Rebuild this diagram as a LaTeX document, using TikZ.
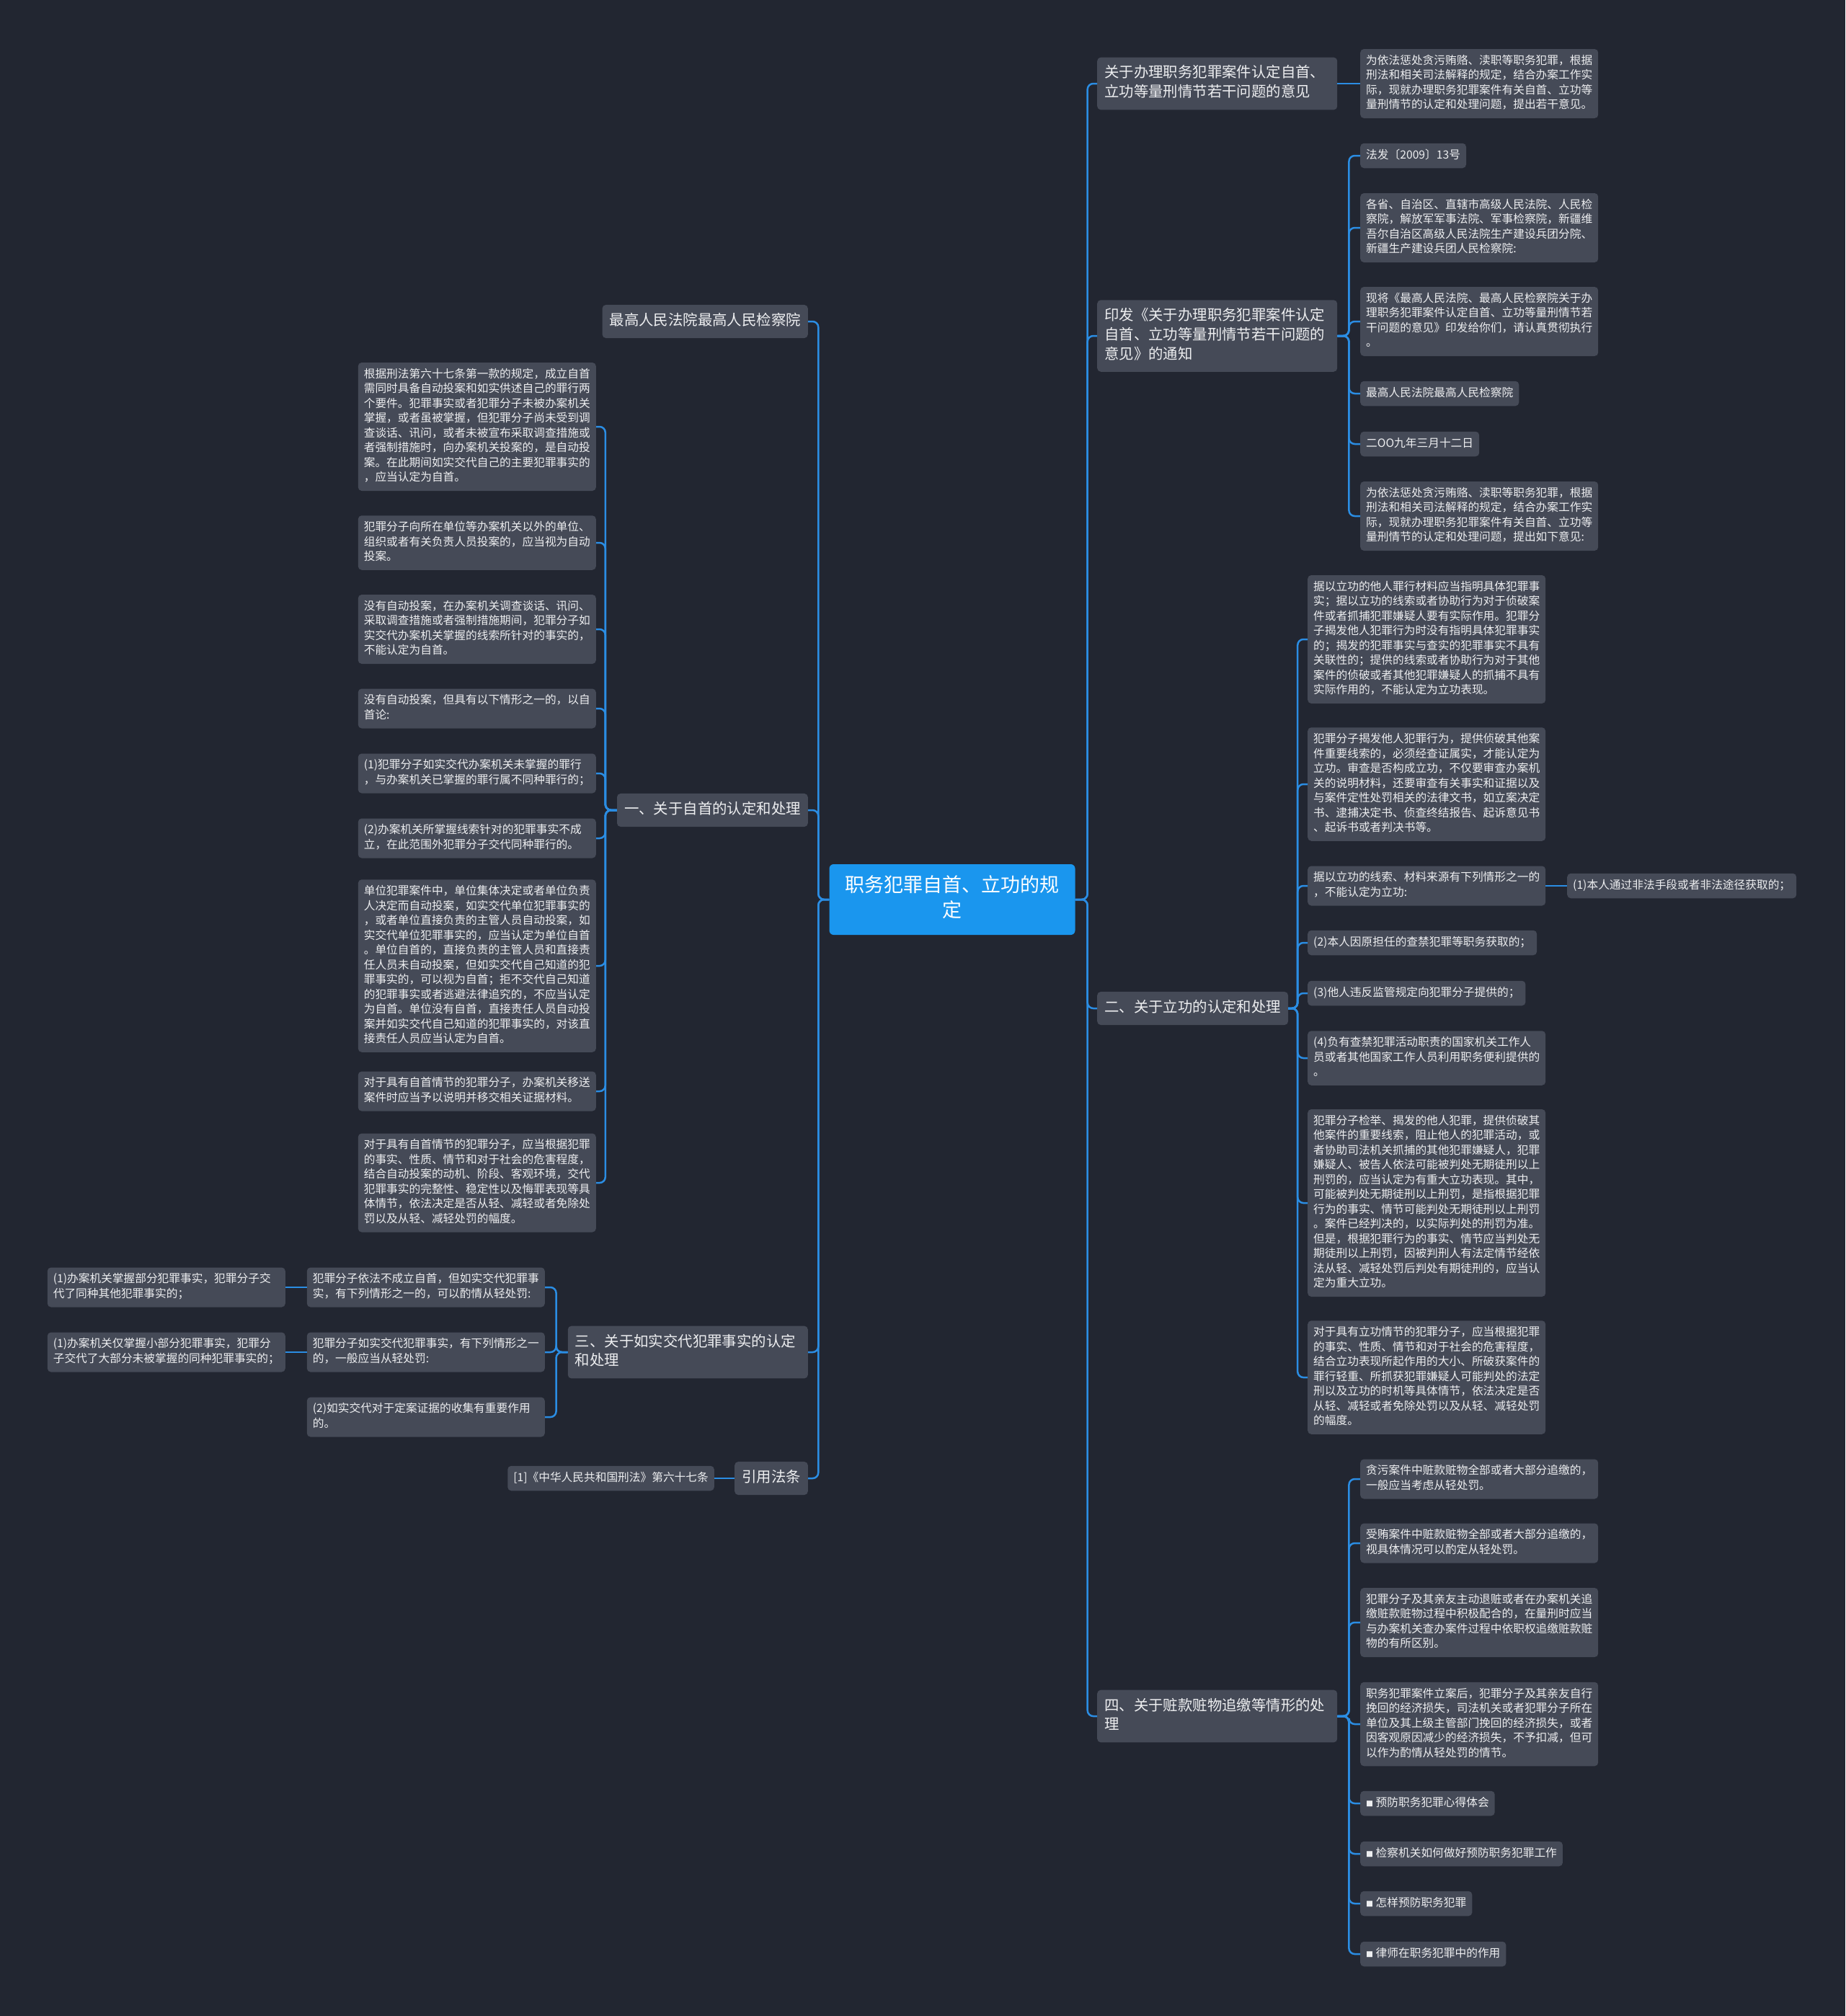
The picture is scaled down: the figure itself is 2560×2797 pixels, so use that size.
\documentclass[tikz,border=0pt]{standalone}
\usepackage{fontspec}
\setmainfont{Noto Sans CJK SC}
\definecolor{canvasbg}{HTML}{222631}
\definecolor{boxgray}{HTML}{454A57}
\definecolor{rootblue}{HTML}{1A96EE}
\definecolor{linkblue}{HTML}{2B8DE3}
\definecolor{textwhite}{HTML}{EDEEF0}
\newcommand{\leaffont}{\fontsize{15.7}{20.5}\selectfont}
\newcommand{\topicfont}{\fontsize{20.4}{26.7}\selectfont}
\newcommand{\rootfont}{\fontsize{27}{35}\selectfont}
\newcommand{\sqmark}{{\fontsize{10}{10}\selectfont ■}}

\begin{document}
\begin{tikzpicture}[x=1pt,y=-1pt,
	box/.style={fill=boxgray, text=textwhite, rounded corners=5pt, align=left,
		execute at begin node=\strut, execute at end node=\strut},
	leaf/.style={box, font=\leaffont, inner xsep=8pt, inner ysep=7pt, text width=314pt},
	tag/.style={box, font=\leaffont, inner xsep=8pt, inner ysep=7pt},
	topic/.style={box, font=\topicfont, inner xsep=10pt, inner ysep=9.7pt},
	wtopic/.style={topic, text width=313pt},
	rootnode/.style={fill=rootblue, text=white, rounded corners=6pt, align=center,
		font=\rootfont, text width=311pt, inner xsep=15pt, inner ysep=14pt,
		execute at begin node=\strut, execute at end node=\strut},
	link/.style={draw=linkblue, line width=2.5pt, rounded corners=8pt}]
	% Dark canvas, fixed to the reference size.
	\useasboundingbox (0,0) rectangle (2560,2797);
	\fill[canvasbg] (0,0) rectangle (2560,2797);

	% Central topic.
	\node[rootnode] (root) at (1321,1248) {职务犯罪自首、立功的规\\定};

	% Right-hand branches.
	\node[wtopic, anchor=west] (r1) at (1522,116) {关于办理职务犯罪案件认定自首、\\立功等量刑情节若干问题的意见};
	\node[leaf, anchor=west] (r1a) at (1887,116) {为依法惩处贪污贿赂、渎职等职务犯罪，根据\\刑法和相关司法解释的规定，结合办案工作实\\际，现就办理职务犯罪案件有关自首、立功等\\量刑情节的认定和处理问题，提出若干意见。};

	\node[wtopic, anchor=west] (r2) at (1522,466) {印发《关于办理职务犯罪案件认定\\自首、立功等量刑情节若干问题的\\意见》的通知};
	\node[tag, anchor=west] (r2a) at (1887,216) {法发〔2009〕13号};
	\node[leaf, anchor=west] (r2b) at (1887,316) {各省、自治区、直辖市高级人民法院、人民检\\察院，解放军军事法院、军事检察院，新疆维\\吾尔自治区高级人民法院生产建设兵团分院、\\新疆生产建设兵团人民检察院:};
	\node[leaf, anchor=west] (r2c) at (1887,446) {现将《最高人民法院、最高人民检察院关于办\\理职务犯罪案件认定自首、立功等量刑情节若\\干问题的意见》印发给你们，请认真贯彻执行\\。};
	\node[tag, anchor=west] (r2d) at (1887,546) {最高人民法院最高人民检察院};
	\node[tag, anchor=west] (r2e) at (1887,616) {二OO九年三月十二日};
	\node[leaf, anchor=west] (r2f) at (1887,716) {为依法惩处贪污贿赂、渎职等职务犯罪，根据\\刑法和相关司法解释的规定，结合办案工作实\\际，现就办理职务犯罪案件有关自首、立功等\\量刑情节的认定和处理问题，提出如下意见:};

	\node[topic, anchor=west] (r3) at (1522,1399) {二、关于立功的认定和处理};
	\node[leaf, anchor=west] (r3a) at (1814,887) {据以立功的他人罪行材料应当指明具体犯罪事\\实；据以立功的线索或者协助行为对于侦破案\\件或者抓捕犯罪嫌疑人要有实际作用。犯罪分\\子揭发他人犯罪行为时没有指明具体犯罪事实\\的；揭发的犯罪事实与查实的犯罪事实不具有\\关联性的；提供的线索或者协助行为对于其他\\案件的侦破或者其他犯罪嫌疑人的抓捕不具有\\实际作用的，不能认定为立功表现。};
	\node[leaf, anchor=west] (r3b) at (1814,1088) {犯罪分子揭发他人犯罪行为，提供侦破其他案\\件重要线索的，必须经查证属实，才能认定为\\立功。审查是否构成立功，不仅要审查办案机\\关的说明材料，还要审查有关事实和证据以及\\与案件定性处罚相关的法律文书，如立案决定\\书、逮捕决定书、侦查终结报告、起诉意见书\\、起诉书或者判决书等。};
	\node[leaf, anchor=west] (r3c) at (1814,1229) {据以立功的线索、材料来源有下列情形之一的\\，不能认定为立功:};
	\node[tag, anchor=west] (r3c1) at (2174,1229) {(1)本人通过非法手段或者非法途径获取的；};
	\node[tag, anchor=west] (r3d) at (1814,1308) {(2)本人因原担任的查禁犯罪等职务获取的；};
	\node[tag, anchor=west] (r3e) at (1814,1378) {(3)他人违反监管规定向犯罪分子提供的；};
	\node[leaf, anchor=west] (r3f) at (1814,1468) {(4)负有查禁犯罪活动职责的国家机关工作人\\员或者其他国家工作人员利用职务便利提供的\\。};
	\node[leaf, anchor=west] (r3g) at (1814,1669) {犯罪分子检举、揭发的他人犯罪，提供侦破其\\他案件的重要线索，阻止他人的犯罪活动，或\\者协助司法机关抓捕的其他犯罪嫌疑人，犯罪\\嫌疑人、被告人依法可能被判处无期徒刑以上\\刑罚的，应当认定为有重大立功表现。其中，\\可能被判处无期徒刑以上刑罚，是指根据犯罪\\行为的事实、情节可能判处无期徒刑以上刑罚\\。案件已经判决的，以实际判处的刑罚为准。\\但是，根据犯罪行为的事实、情节应当判处无\\期徒刑以上刑罚，因被判刑人有法定情节经依\\法从轻、减轻处罚后判处有期徒刑的，应当认\\定为重大立功。};
	\node[leaf, anchor=west] (r3h) at (1814,1911) {对于具有立功情节的犯罪分子，应当根据犯罪\\的事实、性质、情节和对于社会的危害程度，\\结合立功表现所起作用的大小、所破获案件的\\罪行轻重、所抓获犯罪嫌疑人可能判处的法定\\刑以及立功的时机等具体情节，依法决定是否\\从轻、减轻或者免除处罚以及从轻、减轻处罚\\的幅度。};

	\node[wtopic, anchor=west] (r4) at (1522,2381) {四、关于赃款赃物追缴等情形的处\\理};
	\node[leaf, anchor=west] (r4a) at (1887,2052) {贪污案件中赃款赃物全部或者大部分追缴的，\\一般应当考虑从轻处罚。};
	\node[leaf, anchor=west] (r4b) at (1887,2141) {受贿案件中赃款赃物全部或者大部分追缴的，\\视具体情况可以酌定从轻处罚。};
	\node[leaf, anchor=west] (r4c) at (1887,2251) {犯罪分子及其亲友主动退赃或者在办案机关追\\缴赃款赃物过程中积极配合的，在量刑时应当\\与办案机关查办案件过程中依职权追缴赃款赃\\物的有所区别。};
	\node[leaf, anchor=west] (r4d) at (1887,2392) {职务犯罪案件立案后，犯罪分子及其亲友自行\\挽回的经济损失，司法机关或者犯罪分子所在\\单位及其上级主管部门挽回的经济损失，或者\\因客观原因减少的经济损失，不予扣减，但可\\以作为酌情从轻处罚的情节。};
	\node[tag, anchor=west] (r4e) at (1887,2502) {\sqmark\ 预防职务犯罪心得体会};
	\node[tag, anchor=west] (r4f) at (1887,2572) {\sqmark\ 检察机关如何做好预防职务犯罪工作};
	\node[tag, anchor=west] (r4g) at (1887,2641) {\sqmark\ 怎样预防职务犯罪};
	\node[tag, anchor=west] (r4h) at (1887,2711) {\sqmark\ 律师在职务犯罪中的作用};

	% Left-hand branches.
	\node[topic, anchor=east] (l1) at (1121,446) {最高人民法院最高人民检察院};

	\node[topic, anchor=east] (l2) at (1121,1124) {一、关于自首的认定和处理};
	\node[leaf, anchor=east] (l2a) at (827,592) {根据刑法第六十七条第一款的规定，成立自首\\需同时具备自动投案和如实供述自己的罪行两\\个要件。犯罪事实或者犯罪分子未被办案机关\\掌握，或者虽被掌握，但犯罪分子尚未受到调\\查谈话、讯问，或者未被宣布采取调查措施或\\者强制措施时，向办案机关投案的，是自动投\\案。在此期间如实交代自己的主要犯罪事实的\\，应当认定为自首。};
	\node[leaf, anchor=east] (l2b) at (827,753) {犯罪分子向所在单位等办案机关以外的单位、\\组织或者有关负责人员投案的，应当视为自动\\投案。};
	\node[leaf, anchor=east] (l2c) at (827,873) {没有自动投案，在办案机关调查谈话、讯问、\\采取调查措施或者强制措施期间，犯罪分子如\\实交代办案机关掌握的线索所针对的事实的，\\不能认定为自首。};
	\node[leaf, anchor=east] (l2d) at (827,983) {没有自动投案，但具有以下情形之一的，以自\\首论:};
	\node[leaf, anchor=east] (l2e) at (827,1073) {(1)犯罪分子如实交代办案机关未掌握的罪行\\，与办案机关已掌握的罪行属不同种罪行的；};
	\node[leaf, anchor=east] (l2f) at (827,1163) {(2)办案机关所掌握线索针对的犯罪事实不成\\立，在此范围外犯罪分子交代同种罪行的。};
	\node[leaf, anchor=east] (l2g) at (827,1340) {单位犯罪案件中，单位集体决定或者单位负责\\人决定而自动投案，如实交代单位犯罪事实的\\，或者单位直接负责的主管人员自动投案，如\\实交代单位犯罪事实的，应当认定为单位自首\\。单位自首的，直接负责的主管人员和直接责\\任人员未自动投案，但如实交代自己知道的犯\\罪事实的，可以视为自首；拒不交代自己知道\\的犯罪事实或者逃避法律追究的，不应当认定\\为自首。单位没有自首，直接责任人员自动投\\案并如实交代自己知道的犯罪事实的，对该直\\接责任人员应当认定为自首。};
	\node[leaf, anchor=east] (l2h) at (827,1514) {对于具有自首情节的犯罪分子，办案机关移送\\案件时应当予以说明并移交相关证据材料。};
	\node[leaf, anchor=east] (l2i) at (827,1641) {对于具有自首情节的犯罪分子，应当根据犯罪\\的事实、性质、情节和对于社会的危害程度，\\结合自动投案的动机、阶段、客观环境，交代\\犯罪事实的完整性、稳定性以及悔罪表现等具\\体情节，依法决定是否从轻、减轻或者免除处\\罚以及从轻、减轻处罚的幅度。};

	\node[wtopic, anchor=east] (l3) at (1121,1876) {三、关于如实交代犯罪事实的认定\\和处理};
	\node[leaf, anchor=east] (l3a) at (756,1786) {犯罪分子依法不成立自首，但如实交代犯罪事\\实，有下列情形之一的，可以酌情从轻处罚:};
	\node[leaf, anchor=east] (l3a1) at (396,1786) {(1)办案机关掌握部分犯罪事实，犯罪分子交\\代了同种其他犯罪事实的；};
	\node[leaf, anchor=east] (l3b) at (756,1876) {犯罪分子如实交代犯罪事实，有下列情形之一\\的，一般应当从轻处罚:};
	\node[leaf, anchor=east] (l3b1) at (396,1876) {(1)办案机关仅掌握小部分犯罪事实，犯罪分\\子交代了大部分未被掌握的同种犯罪事实的；};
	\node[leaf, anchor=east] (l3c) at (756,1966) {(2)如实交代对于定案证据的收集有重要作用\\的。};

	\node[topic, anchor=east] (l4) at (1121,2051) {引用法条};
	\node[tag, anchor=east] (l4a) at (991,2051) {[1]《中华人民共和国刑法》第六十七条};

	% Connectors: trunks from the central topic, then each branch.
	\foreach \kid in {r1,r2,r3,r4}
		\draw[link] (root.east) -- ++(17,0) |- (\kid.west);
	\foreach \kid in {l1,l2,l3,l4}
		\draw[link] (root.west) -- ++(-15,0) |- (\kid.east);

	\draw[link] (r1.east) -- (r1a.west);
	\foreach \kid in {r2a,r2b,r2c,r2d,r2e,r2f}
		\draw[link] (r2.east) -- ++(16,0) |- (\kid.west);
	\foreach \kid in {r3a,r3b,r3c,r3d,r3e,r3f,r3g,r3h}
		\draw[link] (r3.east) -- ++(13,0) |- (\kid.west);
	\draw[link] (r3c.east) -- (r3c1.west);
	\foreach \kid in {r4a,r4b,r4c,r4d,r4e,r4f,r4g,r4h}
		\draw[link] (r4.east) -- ++(16,0) |- (\kid.west);

	\foreach \kid in {l2a,l2b,l2c,l2d,l2e,l2f,l2g,l2h,l2i}
		\draw[link] (l2.west) -- ++(-16,0) |- (\kid.east);
	\foreach \kid in {l3a,l3b,l3c}
		\draw[link] (l3.west) -- ++(-16,0) |- (\kid.east);
	\draw[link] (l3a.west) -- (l3a1.east);
	\draw[link] (l3b.west) -- (l3b1.east);
	\draw[link] (l4.west) -- (l4a.east);
\end{tikzpicture}
\end{document}
